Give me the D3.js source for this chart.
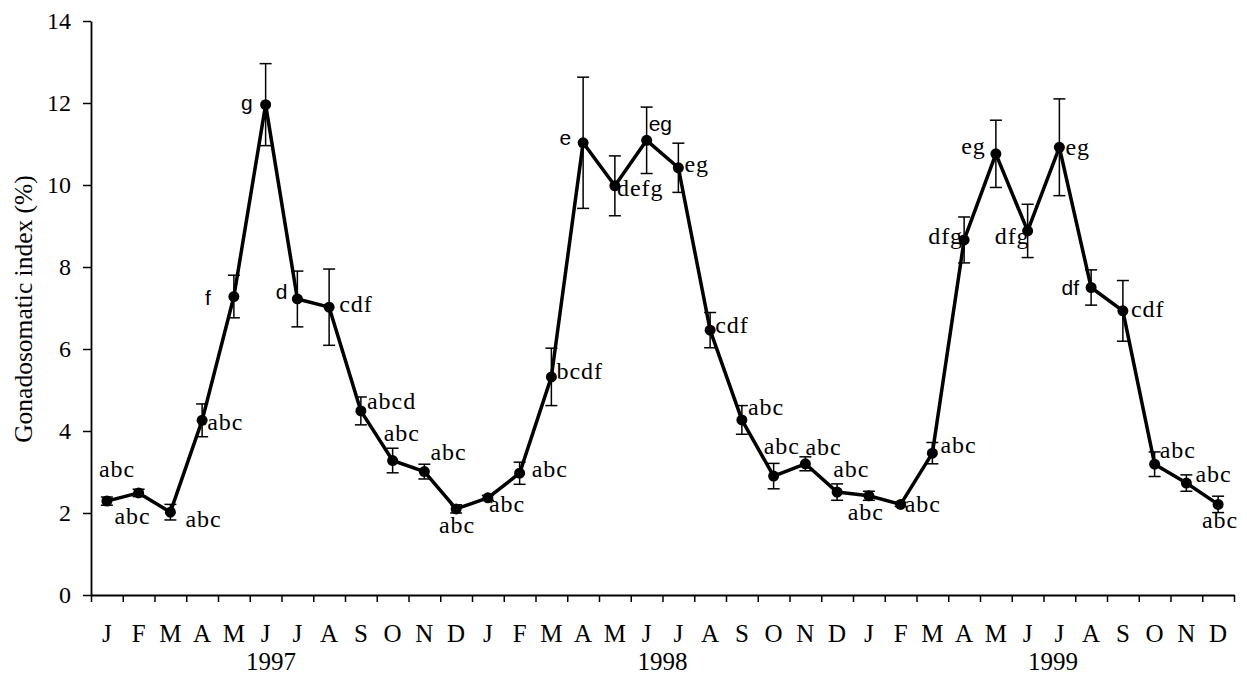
<!DOCTYPE html>
<html>
<head>
<meta charset="utf-8">
<script src="https://cdn.jsdelivr.net/npm/d3@7"></script>
<style>
  body { margin: 0; background: #fff; }
  svg { display: block; }
  .serif { font-family: 'Liberation Serif', 'Times New Roman', Times, 'DejaVu Serif', serif; }
  .sans { font-family: 'Liberation Sans', Arial, Helvetica, sans-serif; }
</style>
</head>
<body>
<svg id="chart" width="1247" height="677"></svg>
<script>
// month letters and years on the x axis
const months = ['J', 'F', 'M', 'A', 'M', 'J', 'J', 'A', 'S', 'O', 'N', 'D'];
const years = ['1997', '1998', '1999'];

// mean gonadosomatic index per month, Jan 1997 .. Dec 1999
const gsi = [
  2.29, 2.49, 2.02, 4.26, 7.28, 11.96, 7.22, 7.02, 4.49, 3.28, 3.01, 2.10,
  2.37, 2.97, 5.32, 11.03, 9.98, 11.09, 10.42, 6.46, 4.27, 2.90, 3.20, 2.51,
  2.42, 2.21, 3.46, 8.66, 10.76, 8.88, 10.92, 7.50, 6.93, 3.19, 2.73, 2.21
];
// standard error
const sem = [
  0.10, 0.09, 0.19, 0.40, 0.52, 1.00, 0.68, 0.93, 0.34, 0.30, 0.18, 0.10,
  0.06, 0.27, 0.70, 1.60, 0.73, 0.81, 0.60, 0.43, 0.35, 0.31, 0.17, 0.20,
  0.11, 0.05, 0.26, 0.56, 0.82, 0.65, 1.18, 0.43, 0.74, 0.30, 0.20, 0.20
];
// significance letters
const letters = [
  'abc', 'abc', 'abc', 'abc', 'f', 'g', 'd', 'cdf', 'abcd', 'abc', 'abc', 'abc',
  'abc', 'abc', 'bcdf', 'e', 'defg', 'eg', 'eg', 'cdf', 'abc', 'abc', 'abc', 'abc',
  'abc', 'abc', 'abc', 'dfg', 'eg', 'dfg', 'eg', 'df', 'cdf', 'abc', 'abc', 'abc'
];

// ---- layout ----
const margin = {left: 91, right: 13, top: 21, bottom: 82};
const width = 1247, height = 677;
// letters that are set in a sans face in the original
const sansIdx = [4, 5, 6, 15, 17, 31];
// [anchor, dx, dy] for each letter label, relative to its point
const labelPos = [
  ['start', -8, -24], ['middle', -6, 31], ['start', 15, 15], ['start', 5, 10],
  ['end', -23, 8], ['end', -13, 5], ['end', -10, 0], ['start', 10, 5],
  ['start', 6, -2], ['start', -9, -20], ['start', 6, -12], ['middle', 1, 24],
  ['start', 1, 14], ['start', 12, 4], ['start', 5, 2], ['end', -12, 2],
  ['start', 2, 10], ['start', 2, -9], ['start', 6, 4], ['start', 5, 3],
  ['start', 6, -5], ['start', -10, -22], ['start', 0, -9], ['start', -4, -15],
  ['middle', -3, 24], ['start', 4, 8], ['start', 8, 0], ['end', -1, 4],
  ['end', -10, 0], ['end', 2, 13], ['start', 6, 8], ['end', -12, 7],
  ['start', 8, 6], ['start', 5, -6], ['start', 9, -1], ['middle', 2, 24]
];
// year label centres, in month units
const yearPos = [5.67, 18.0, 30.3];

const svg = d3.select('#chart');
const nMonths = gsi.length;

const x = d3.scaleLinear().domain([0, nMonths]).range([margin.left, width - margin.right]);
const y = d3.scaleLinear().domain([0, 14]).range([height - margin.bottom, margin.top]);

// y axis
const yAxis = d3.axisLeft(y).tickValues(d3.range(0, 15, 2)).tickSize(8).tickSizeOuter(0).tickPadding(12);
const gy = svg.append('g')
  .attr('transform', `translate(${margin.left},0)`)
  .call(yAxis);
gy.attr('font-family', null).attr('font-size', null);
gy.select('.domain').attr('stroke', '#000').attr('stroke-width', 1.8);
gy.selectAll('.tick line').attr('stroke', '#000').attr('stroke-width', 1.5);
gy.selectAll('.tick text')
  .attr('class', 'serif').attr('font-size', 24).attr('fill', '#000');

// x axis: ticks at month boundaries, letters in between
const xAxis = d3.axisBottom(x).tickValues(d3.range(0, nMonths + 1)).tickSize(7).tickSizeOuter(0).tickFormat('');
const gx = svg.append('g')
  .attr('transform', `translate(0,${y(0)})`)
  .call(xAxis);
gx.select('.domain').attr('stroke', '#000').attr('stroke-width', 1.8);
gx.selectAll('.tick line').attr('stroke', '#000').attr('stroke-width', 1.5);

svg.append('g').selectAll('text')
  .data(d3.range(nMonths))
  .join('text')
  .attr('class', 'serif')
  .attr('x', i => x(i + 0.5))
  .attr('y', y(0) + 47)
  .attr('text-anchor', 'middle')
  .attr('font-size', 25)
  .text(i => months[i % 12]);

svg.append('g').selectAll('text')
  .data(years)
  .join('text')
  .attr('class', 'serif')
  .attr('x', (d, i) => x(yearPos[i]))
  .attr('y', y(0) + 75)
  .attr('text-anchor', 'middle')
  .attr('font-size', 25)
  .text(d => d);

// y axis title
svg.append('text')
  .attr('class', 'serif')
  .attr('transform', 'translate(32,309) rotate(-90)')
  .attr('text-anchor', 'middle')
  .attr('font-size', 25.5)
  .text('Gonadosomatic index (%)');

const pts = gsi.map((v, i) => ({i, v, e: sem[i], lab: letters[i]}));

// error bars
const eb = svg.append('g').attr('stroke', '#000').attr('stroke-width', 1.5);
pts.forEach(d => {
  const cx = x(d.i + 0.5);
  eb.append('line').attr('x1', cx).attr('x2', cx).attr('y1', y(d.v - d.e)).attr('y2', y(d.v + d.e));
  eb.append('line').attr('x1', cx - 6).attr('x2', cx + 6).attr('y1', y(d.v - d.e)).attr('y2', y(d.v - d.e));
  eb.append('line').attr('x1', cx - 6).attr('x2', cx + 6).attr('y1', y(d.v + d.e)).attr('y2', y(d.v + d.e));
});

// the line
const line = d3.line().x(d => x(d.i + 0.5)).y(d => y(d.v));
svg.append('path')
  .datum(pts)
  .attr('fill', 'none')
  .attr('stroke', '#000')
  .attr('stroke-width', 3.5)
  .attr('stroke-linejoin', 'round')
  .attr('d', line);

svg.append('g').selectAll('circle')
  .data(pts)
  .join('circle')
  .attr('cx', d => x(d.i + 0.5))
  .attr('cy', d => y(d.v))
  .attr('r', 5.5);

// letters
svg.append('g').selectAll('text')
  .data(pts)
  .join('text')
  .attr('class', d => sansIdx.includes(d.i) ? 'sans' : 'serif')
  .attr('x', d => x(d.i + 0.5) + labelPos[d.i][1])
  .attr('y', d => y(d.v) + labelPos[d.i][2])
  .attr('text-anchor', d => labelPos[d.i][0])
  .attr('font-size', d => sansIdx.includes(d.i) ? 21 : 24)
  .attr('letter-spacing', d => sansIdx.includes(d.i) ? 0 : 1)
  .text(d => d.lab);
</script>
</body>
</html>
